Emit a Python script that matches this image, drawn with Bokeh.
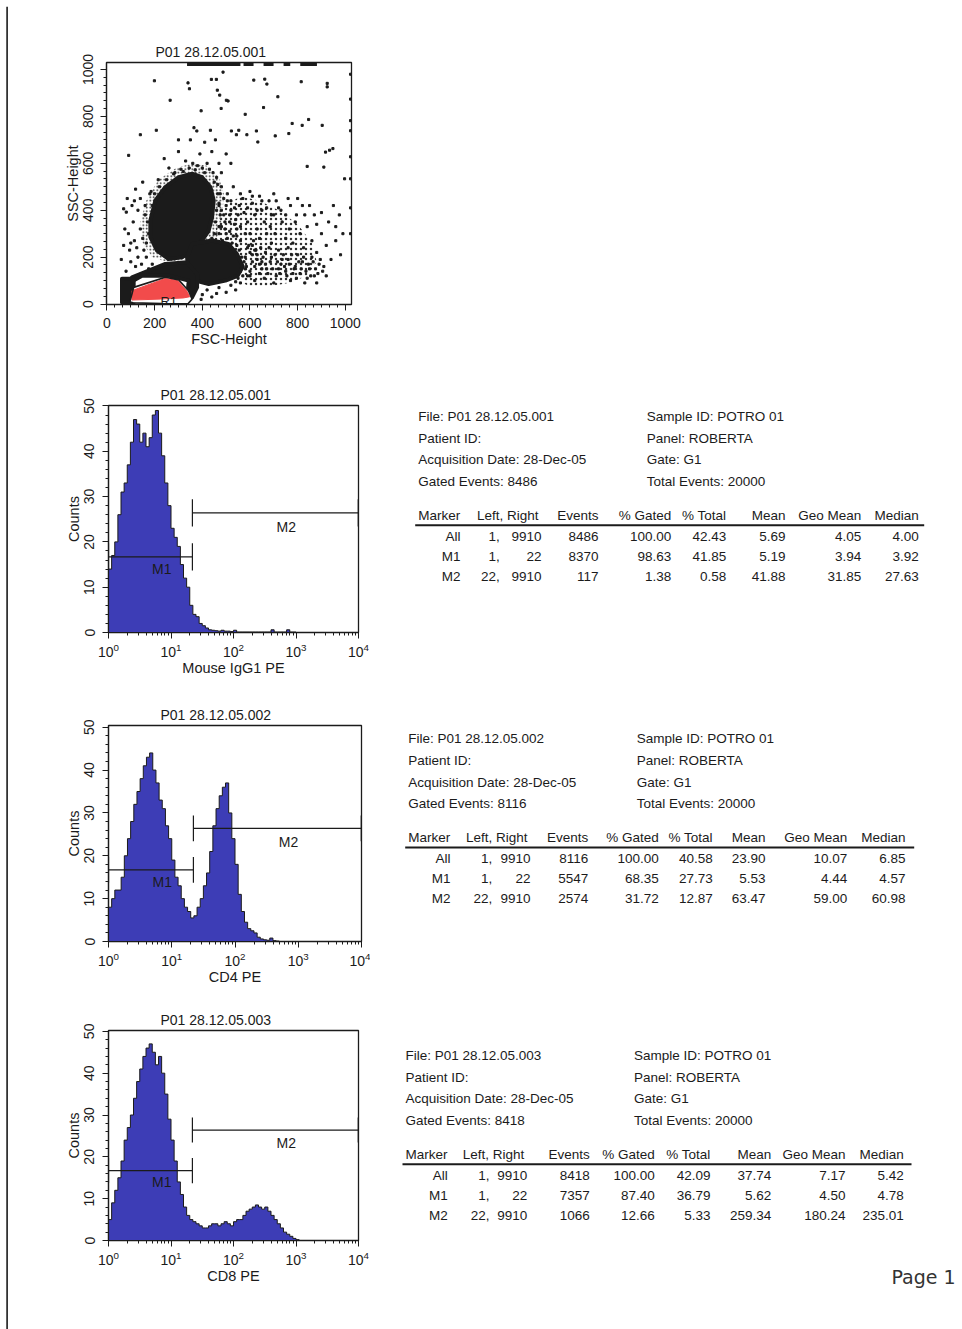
from bokeh.plotting import figure
from bokeh.models import Range1d, SingleIntervalTicker, Title
from bokeh.layouts import column, row
from bokeh.embed import file_html
from bokeh.resources import INLINE
from bokeh.core.properties import value

FONT = "Liberation Sans"
INK = "#1b1b1b"
BLUE = "#3d3db6"
RED = "#f24b4b"

# ---------------- data: dot plot (FSC / SSC) ----------------
dot_title = "P01 28.12.05.001"
fsc_label = "FSC-Height"
ssc_label = "SSC-Height"

blob_a_fsc = [203, 245, 301, 357, 399, 434, 448, 441, 427, 399, 357, 315, 259, 210, 182, 182]
blob_a_ssc = [442, 499, 541, 556, 541, 499, 442, 370, 313, 271, 228, 199, 192, 228, 285, 356]
blob_b_fsc = [357, 441, 510, 545, 570, 548, 497, 427, 371, 343, 336]
blob_b_ssc = [256, 271, 256, 214, 160, 120, 100, 85, 100, 142, 199]
blob_c_fsc = [105, 175, 245, 336, 378, 378, 357, 336, 343, 259, 147, 98]
blob_c_ssc = [114, 142, 171, 178, 128, 71, 28, 21, 100, 121, 121, 93]
block_fsc = [63, 112, 112, 63]
block_ssc = [7, 7, 108, 108]
# medium-density zones (stippled)
halo_a_fsc = [165, 215, 290, 360, 420, 470, 490, 485, 470, 440, 400, 330, 250, 190, 150, 140]
halo_a_ssc = [440, 530, 580, 600, 590, 540, 470, 380, 300, 250, 220, 190, 180, 200, 260, 350]
cloud_fsc = [440, 460, 500, 560, 640, 720, 800, 860, 880, 840, 760, 680, 600, 570, 580, 540]
cloud_ssc = [230, 330, 420, 460, 440, 400, 340, 260, 180, 120, 90, 75, 75, 90, 180, 230]

gate_fsc = [96, 112, 245, 301, 342, 357, 340, 230, 110]
gate_ssc = [8, 71, 114, 103, 57, 21, 1, 2, 5]
gate_red_fsc = [105, 245, 296, 336, 347, 321, 224, 105]
gate_red_ssc = [57, 109, 100, 54, 31, 26, 21, 17]
gate_name = "R1"
gate_label_fsc = 259
gate_label_ssc = 11

sparse_pts = [
    (199, 952), (265, 869), (340, 943), (346, 918), (395, 824), (438, 958), (459, 958), (463, 912),
    (473, 891), (487, 989), (501, 869), (479, 834), (508, 866), (580, 809), (616, 955), (662, 959),
    (671, 938), (657, 838), (717, 884), (815, 948), (924, 941), (924, 926), (777, 770), (846, 787),
    (903, 762), (140, 722), (207, 741), (365, 752), (377, 738), (434, 741), (522, 738), (543, 722),
    (553, 741), (587, 722), (627, 738), (633, 691), (706, 717), (763, 727), (819, 762), (917, 648),
    (934, 656), (840, 587), (910, 584), (948, 663), (997, 534), (91, 634), (70, 406), (81, 392),
    (300, 650), (330, 610), (360, 600), (390, 640), (420, 600), (440, 650), (470, 600), (480, 560),
    (260, 580), (240, 620), (410, 690), (350, 700), (300, 700), (500, 640), (520, 600), (455, 700),
    (380, 590), (400, 580), (430, 575), (345, 580), (310, 575), (285, 560),
    (175, 300), (170, 350), (190, 420), (200, 470), (220, 500), (250, 530), (280, 555), (320, 565),
    (370, 572), (410, 560), (450, 520), (465, 470), (460, 400), (455, 350), (450, 300), (430, 260),
    (165, 260), (160, 420), (180, 470), (215, 530), (470, 430), (475, 380), (470, 330), (480, 500),
    (460, 540),
    (70, 250), (90, 300), (110, 350), (130, 200), (150, 280), (160, 380), (120, 160), (100, 180),
    (140, 450), (185, 480), (175, 150), (80, 140), (95, 230), (140, 320), (155, 230), (190, 170),
    (60, 190), (115, 270), (130, 400), (105, 420),
    (75, 320), (85, 450), (120, 490), (150, 520), (100, 260), (125, 240), (145, 170), (165, 200), (115, 440),
    (470, 420), (490, 380), (505, 440), (520, 400), (540, 360), (555, 420), (560, 330), (575, 390),
    (590, 350), (600, 300), (610, 430), (620, 380), (630, 320), (640, 280), (650, 400), (660, 350),
    (670, 300), (680, 440), (690, 260), (700, 380), (480, 330), (500, 300), (515, 350), (530, 290),
    (545, 320), (560, 270), (580, 300), (595, 250), (615, 270), (625, 230), (645, 240), (665, 220),
    (685, 330), (705, 300), (720, 410), (735, 350), (750, 280), (765, 320), (780, 260), (795, 380),
    (810, 300), (825, 240), (840, 330), (860, 270), (880, 220), (900, 300), (920, 250), (940, 190),
    (960, 270), (980, 210), (530, 500), (560, 470), (600, 480), (640, 460), (700, 470), (760, 450),
    (820, 420), (870, 380), (930, 350), (990, 300),
    (440, 280), (455, 265), (470, 300), (485, 270), (495, 320), (505, 280), (515, 310), (525, 260),
    (535, 340), (545, 290), (550, 380), (535, 410), (520, 440), (505, 470), (490, 450), (475, 470),
    (465, 510), (445, 560), (500, 420), (515, 380), (480, 400), (495, 350),
    (570, 450), (590, 410), (610, 460), (630, 400), (650, 440), (670, 410), (690, 380), (710, 440),
    (730, 400), (750, 380), (770, 420), (790, 350), (800, 450), (830, 380), (850, 420), (880, 340),
    (900, 390), (950, 420), (960, 330), (975, 380),
    (545, 250), (555, 230), (565, 200), (575, 180), (585, 160), (560, 140), (570, 120), (550, 110),
    (540, 95), (600, 140), (610, 250), (620, 230), (630, 210), (640, 170), (650, 150), (655, 200),
    (665, 170), (675, 130), (685, 180), (695, 150), (705, 210), (715, 180), (725, 130), (735, 190),
    (745, 160), (755, 120), (765, 170), (775, 210), (785, 150), (795, 110), (805, 180), (815, 150),
    (825, 200), (835, 140), (845, 170), (855, 120), (865, 180), (875, 150), (885, 130), (895, 190),
    (910, 160), (920, 120),
    (650, 180), (670, 150), (690, 200), (710, 120), (730, 170), (750, 140), (770, 100), (790, 160),
    (810, 130), (830, 90), (850, 150), (870, 120), (890, 170), (905, 140), (700, 90), (740, 210),
    (760, 190), (800, 210), (820, 180), (860, 200), (880, 90), (640, 130), (620, 160), (600, 120),
    (580, 200), (660, 110), (610, 210), (590, 240), (630, 190), (680, 240), (720, 230), (760, 240),
    (840, 110), (780, 130), (720, 150),
    (600, 220), (610, 180), (590, 120), (560, 90), (520, 80), (470, 70), (420, 60), (400, 40),
    (395, 20), (540, 60), (500, 50), (460, 45), (440, 30), (580, 150), (620, 100),
    (1022, 980), (1022, 874), (1022, 782), (1022, 739), (1022, 628), (1022, 534), (1022, 410), (1022, 300),
]
sparse_fsc = [p[0] for p in sparse_pts]
sparse_ssc = [p[1] for p in sparse_pts]
top_sat_start = [336, 573, 657, 741, 811]
top_sat_end = [560, 615, 699, 769, 881]
top_sat_ssc = 1021

# ---------------- data: histograms ----------------
hist_titles = ["P01 28.12.05.001", "P01 28.12.05.002", "P01 28.12.05.003"]
hist_xlabels = ["Mouse IgG1 PE", "CD4 PE", "CD8 PE"]
bin_decades = 0.05
counts_igg1 = [14, 17, 20, 26, 31, 33, 37, 42, 47, 46,
               42, 44, 41, 43, 48, 49, 44, 39, 33, 28,
               23, 21, 19, 15, 12, 10, 6, 4, 3.5, 2,
               1.5, 1, 0.6, 0.5, 0.4, 0.3, 0.5, 0.3, 0.3, 0.2,
               0.5, 0.1, 0.1, 0.1, 0.1, 0.1, 0.1, 0.1, 0.1, 0.1,
               0.1, 0.1, 0.6, 0.1, 0.1, 0.1, 0.1, 0.6, 0.1, 0.1] + [0] * 20
counts_cd4 = [8, 10, 12, 12, 15, 20, 24, 28, 32, 35,
              38, 41, 43, 44, 40, 37, 33, 31, 27, 24,
              19, 15, 13, 10, 8, 7, 5.5, 6, 8, 10,
              13, 16, 21, 27, 31, 34, 36, 37, 30, 24,
              18, 11, 7, 4.5, 3, 2.5, 2, 1, 0.6, 0.4,
              0.3, 0.8, 0.2, 0.1] + [0] * 26
counts_cd8 = [5, 9, 12, 15, 19, 24, 27, 30, 34, 38,
              41, 44, 46, 47, 45, 42, 44, 40, 35, 29,
              24, 19, 14, 11, 8, 6, 5, 4.5, 4, 3.5,
              3, 3, 3.5, 4, 4, 3.5, 4, 4.5, 4, 3.5,
              4.5, 5, 5, 6, 7, 7.5, 8, 8.5, 8, 7.5,
              8, 7, 6, 5, 4, 3, 2, 1.5, 1, 0.5,
              0.2] + [0] * 19
hist_counts = [counts_igg1, counts_cd4, counts_cd8]

marker_names = ["All", "M1", "M2"]
marker_left = [1, 1, 22]
marker_right = [9910, 22, 9910]
marker_height = {"M1": 16.7, "M2": 26.4}
marker_tick_half = 3.0
marker_label_x = {"M1": 7.1, "M2": 700}
marker_label_y = {"M1": 14.0, "M2": 23.2}

# ---------------- data: statistics tables ----------------
table_headers = ["Marker", "Left, Right", "Events", "% Gated", "% Total", "Mean", "Geo Mean", "Median"]
gated_events = [8486, 8116, 8418]
total_events = 20000
sample_id = "POTRO 01"
panel_name = "ROBERTA"
gate_name_t = "G1"
acq_date = "28-Dec-05"
events = [[8486, 8370, 117], [8116, 5547, 2574], [8418, 7357, 1066]]
pct_gated = [[100.00, 98.63, 1.38], [100.00, 68.35, 31.72], [100.00, 87.40, 12.66]]
pct_total = [[42.43, 41.85, 0.58], [40.58, 27.73, 12.87], [42.09, 36.79, 5.33]]
means = [[5.69, 5.19, 41.88], [23.90, 5.53, 63.47], [37.74, 5.62, 259.34]]
geo_means = [[4.05, 3.94, 31.85], [10.07, 4.44, 59.00], [7.17, 4.50, 180.24]]
medians = [[4.00, 3.92, 27.63], [6.85, 4.57, 60.98], [5.42, 4.78, 235.01]]
page_label = "Page 1"


def style_plot(p):
    p.grid.visible = False
    p.outline_line_color = INK
    p.outline_line_width = 1.3
    p.background_fill_color = "white"
    p.border_fill_color = "white"
    for ax in p.axis:
        ax.axis_line_color = INK
        ax.axis_line_width = 1.2
        ax.major_tick_line_color = INK
        ax.minor_tick_line_color = INK
        ax.major_tick_in = 0
        ax.minor_tick_in = 0
        ax.major_tick_out = 6
        ax.minor_tick_out = 3
        ax.major_label_text_font = FONT
        ax.major_label_text_font_size = "14px"
        ax.major_label_text_color = INK
        ax.axis_label_text_font = FONT
        ax.axis_label_text_font_size = "14.5px"
        ax.axis_label_text_font_style = "normal"
        ax.axis_label_text_color = INK
        ax.axis_label_standoff = 0
    p.xaxis.major_label_standoff = 4
    p.yaxis.major_label_standoff = 8
    p.yaxis.major_label_orientation = "vertical"
    p.title.text_font = FONT
    p.title.text_font_size = "14px"
    p.title.text_font_style = "normal"
    p.title.text_color = INK
    p.title.align = "left"
    p.title.standoff = 5


# ---------------- dot plot ----------------
ps = figure(width=362, height=366, x_range=Range1d(-2, 1026), y_range=Range1d(-2, 1030),
            min_border_left=98, min_border_right=19, min_border_top=56, min_border_bottom=68,
            title=dot_title, x_axis_label=fsc_label, y_axis_label=ssc_label,
            output_backend="svg", toolbar_location=None)
style_plot(ps)
ps.xaxis.major_label_standoff = 7
ps.yaxis.major_label_standoff = 7
ps.title.offset = 49
ps.xaxis.ticker = SingleIntervalTicker(interval=200, num_minor_ticks=6)
ps.yaxis.ticker = SingleIntervalTicker(interval=200, num_minor_ticks=6)
ps.patch(cloud_fsc, cloud_ssc, fill_color=None, line_color=None,
         hatch_pattern="dot", hatch_color=INK, hatch_scale=5, hatch_weight=1.3, hatch_alpha=0.9)
ps.patch(halo_a_fsc, halo_a_ssc, fill_color=None, line_color=None,
         hatch_pattern="dot", hatch_color=INK, hatch_scale=3.5, hatch_weight=1.6)
ps.scatter(sparse_fsc, sparse_ssc, size=2.1, color=INK, marker="square")
ps.segment(x0=top_sat_start, y0=top_sat_ssc, x1=top_sat_end, y1=top_sat_ssc, line_width=3, color=INK)
for fx, sy in [(blob_a_fsc, blob_a_ssc), (blob_b_fsc, blob_b_ssc), (blob_c_fsc, blob_c_ssc), (block_fsc, block_ssc)]:
    ps.patch(fx, sy, fill_color=INK, line_color=INK, line_width=4, line_join="round")
ps.patch(gate_fsc, gate_ssc, fill_color="white", line_color=None)
ps.patch(gate_red_fsc, gate_red_ssc, fill_color=RED, line_color=RED, line_width=1)
ps.patch(gate_fsc, gate_ssc, fill_color=None, line_color=INK, line_width=1.6)
ps.text([gate_label_fsc], [gate_label_ssc], text=[gate_name], text_font=value(FONT), text_font_size="13px",
        text_align="center", text_baseline="middle", text_color=INK)


# ---------------- histograms ----------------
def hist_fig(i, geom):
    lb, fw, rb, tb, fh, bb, ymax = geom
    counts = hist_counts[i]
    p = figure(width=lb + fw + rb, height=tb + fh + bb, x_axis_type="log",
               x_range=Range1d(1, 10 ** 4), y_range=Range1d(0, ymax),
               min_border_left=lb, min_border_right=rb, min_border_top=tb, min_border_bottom=bb,
               title=hist_titles[i], x_axis_label=hist_xlabels[i], y_axis_label="Counts",
               output_backend="svg", toolbar_location=None)
    style_plot(p)
    p.title.offset = 52
    p.yaxis.ticker = SingleIntervalTicker(interval=10, num_minor_ticks=5)
    edges = [10 ** (k * bin_decades) for k in range(len(counts) + 1)]
    xs, ys = [edges[0]], [0]
    for k, c in enumerate(counts):
        xs += [edges[k], edges[k + 1]]
        ys += [c, c]
    xs.append(edges[-1])
    ys.append(0)
    p.patch(xs, ys, fill_color=BLUE, line_color=None)
    p.line(xs, ys, line_color=INK, line_width=1)
    for m in ("M1", "M2"):
        j = marker_names.index(m)
        h = marker_height[m]
        p.segment(x0=[marker_left[j]], y0=[h], x1=[marker_right[j]], y1=[h], line_color=INK, line_width=1.2)
        for xe in (marker_left[j], marker_right[j]):
            p.segment(x0=[xe], y0=[h - marker_tick_half], x1=[xe], y1=[h + marker_tick_half],
                      line_color=INK, line_width=1.2)
        p.text([marker_label_x[m]], [marker_label_y[m]], text=[m], text_font=value(FONT),
               text_font_size="14px", text_align="center", text_baseline="middle", text_color=INK)
    return p


geom1 = (100, 250, 12, 33, 227, 58, 50.1)
geom2 = (100, 253, 9, 35, 216, 59, 50.4)
geom3 = (100, 250, 12, 30, 210, 89, 50.2)
h1 = hist_fig(0, geom1)
h2 = hist_fig(1, geom2)
h3 = hist_fig(2, geom3)

# ---------------- tables (page coordinates) ----------------
table_anchor = [(417.7, 416.0), (407.7, 738.3), (405.0, 1055.0)]
col_right = [
    [42.3, 81.5, 123.3, 180.3, 253.0, 308.0, 367.3, 443.0, 500.6],
    [42.3, 84.0, 122.3, 180.0, 250.6, 304.6, 357.3, 439.0, 497.3],
    [42.3, 84.0, 121.7, 184.3, 249.3, 305.0, 365.7, 440.0, 498.3],
]
info_dy = [0, 21.7, 43.3, 64.7]
right_info_dx = 228.5
header_dy = 98.5
rule_dy = 108.8
row_dy = [119.5, 139.5, 159.5]


def table_fig(i, ytop, geom, extra_page=False):
    # the frame of this figure is aligned with the histogram frame of the same row
    lb, fw, rb, tb, fh, bb, ymax = geom
    tp = figure(width=592, height=tb + fh + bb, x_range=Range1d(370, 962),
                y_range=Range1d(ytop + tb + fh, ytop + tb),
                min_border_left=0, min_border_right=0, min_border_top=tb, min_border_bottom=bb,
                x_axis_location=None, y_axis_location=None, output_backend="svg", toolbar_location=None)
    tp.grid.visible = False
    tp.outline_line_color = None
    tp.border_fill_color = "white"
    x0, y0 = table_anchor[i]
    c = col_right[i]
    kw = dict(text_font=value(FONT), text_font_size="13.5px", text_baseline="middle", text_color=INK)
    left_lines = ["File: " + hist_titles[i], "Patient ID:", "Acquisition Date: " + acq_date,
                  "Gated Events: %d" % gated_events[i]]
    right_lines = ["Sample ID: " + sample_id, "Panel: " + panel_name, "Gate: " + gate_name_t,
                   "Total Events: %d" % total_events]
    tp.text([x0] * 4, [y0 + d for d in info_dy], text=left_lines, text_align="left", **kw)
    tp.text([x0 + right_info_dx] * 4, [y0 + d for d in info_dy], text=right_lines, text_align="left", **kw)
    hy = y0 + header_dy
    tp.text([x0], [hy], text=[table_headers[0]], text_align="left", **kw)
    hx = [x0 + c[2] - 3] + [x0 + cc for cc in c[3:]]
    tp.text(hx, [hy] * len(hx), text=table_headers[1:], text_align="right", **kw)
    tp.segment(x0=[x0 - 3], y0=[y0 + rule_dy], x1=[x0 + 506], y1=[y0 + rule_dy], line_color=INK, line_width=2)
    for r in range(3):
        yy = y0 + row_dy[r]
        vals = [marker_names[r], "%d," % marker_left[r], "%d" % marker_right[r], "%d" % events[i][r],
                "%.2f" % pct_gated[i][r], "%.2f" % pct_total[i][r], "%.2f" % means[i][r],
                "%.2f" % geo_means[i][r], "%.2f" % medians[i][r]]
        tp.text([x0 + cc for cc in c], [yy] * len(c), text=vals, text_align="right", **kw)
    if extra_page:
        tp.add_layout(Title(text=page_label, align="left", offset=521, standoff=47,
                            text_font="DejaVu Sans", text_font_size="19px", text_font_style="normal",
                            text_color="#333333"), "below")
    return tp


t1 = table_fig(0, 372, geom1)
t2 = table_fig(1, 690, geom2)
t3 = table_fig(2, 1000, geom3, extra_page=True)

# ---------------- page frame strips ----------------
top_strip = figure(width=962, height=6, x_range=Range1d(0, 962), y_range=Range1d(6, 0),
                   min_border_left=0, min_border_right=0, min_border_top=0, min_border_bottom=0,
                   x_axis_location=None, y_axis_location=None, output_backend="svg", toolbar_location=None)
top_strip.grid.visible = False
top_strip.outline_line_color = None
top_strip.segment(x0=[5.8], y0=[5.0], x1=[962], y1=[5.0], line_color=INK, line_width=1.6)

left_strip = figure(width=8, height=1323, x_range=Range1d(0, 8), y_range=Range1d(1323, 0),
                    min_border_left=0, min_border_right=0, min_border_top=0, min_border_bottom=0,
                    x_axis_location=None, y_axis_location=None, output_backend="svg", toolbar_location=None)
left_strip.grid.visible = False
left_strip.outline_line_color = None
left_strip.segment(x0=[6.6], y0=[0], x1=[6.6], y1=[1323], line_color=INK, line_width=1.6)

body = column(row(ps), row(h1, t1), row(h2, t2), row(h3, t3))
page = column(top_strip, row(left_strip, body))

open("out.html", "w").write(file_html(page, INLINE))
